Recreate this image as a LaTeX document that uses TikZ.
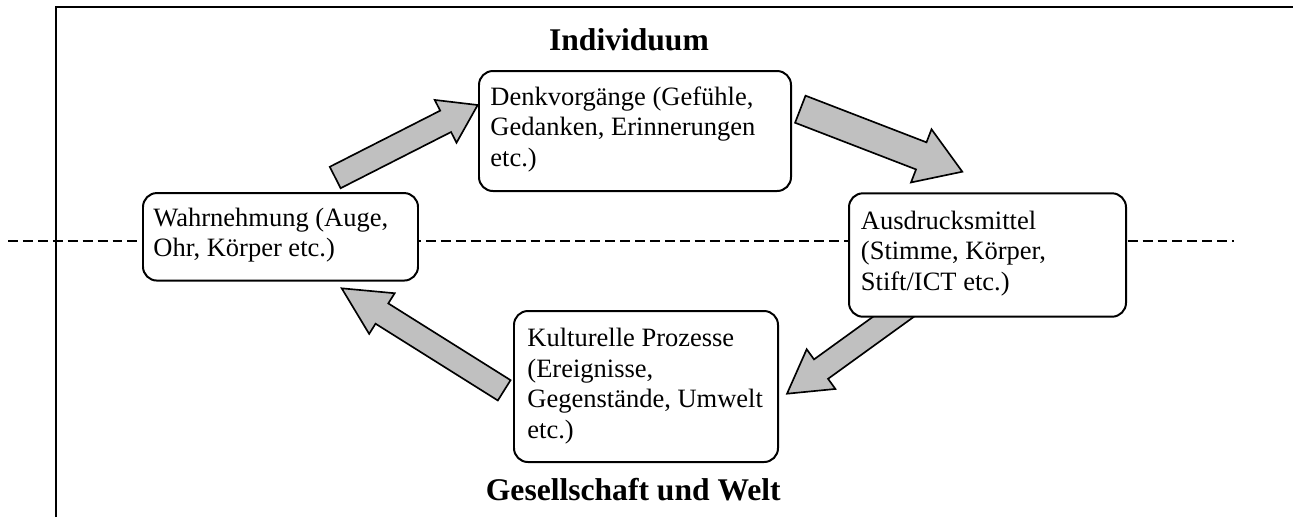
\documentclass[tikz,border=0pt]{standalone}
\usepackage{fontspec}
\setmainfont{Liberation Serif}
\usetikzlibrary{calc}
\definecolor{arrowgray}{HTML}{C0C0C0}
\def\PX{0.4528pt}
\tikzset{
 box/.style={draw, line width=0.9pt, rounded corners=6.3pt, fill=white, inner sep=0pt},
 txt/.style={align=left, inner sep=0pt, anchor=base west, font=\fontsize{12}{13.9}\selectfont},
 ttl/.style={inner sep=0pt, anchor=base, font=\fontsize{14.3}{17}\selectfont\bfseries},
 barrow/.style={draw, line width=0.75pt, fill=arrowgray, line join=miter},
 frameline/.style={line width=1.1pt},
 divider/.style={line width=0.75pt, dash pattern=on 4.5pt off 2.26pt},
}
% block arrow: #1 tail, #2 tip, #3 shaft half width, #4 head half width, #5 head length
\newcommand\blockarr[5]{%
 \draw[barrow] ($(#1)!#3!90:(#2)$)
   -- ($(#2)!#5!(#1)!#3!-90:(#1)$)
   -- ($(#2)!#5!(#1)!#4!-90:(#1)$)
   -- (#2)
   -- ($(#2)!#5!(#1)!#4!90:(#1)$)
   -- ($(#2)!#5!(#1)!#3!90:(#1)$)
   -- ($(#1)!#3!-90:(#2)$) -- cycle;}
\begin{document}
\begin{tikzpicture}[x=0.4528pt, y=-0.4528pt]
\useasboundingbox (0,0) rectangle (1293,517);
% divider and frame
\coordinate (dl) at (8,241);
\coordinate (dr) at (1234,241);
\draw[divider] (dl) -- (dr);
\coordinate (fb) at (56,517);
\coordinate (fc) at (56,7);
\coordinate (fr) at (1293,7);
\draw[frameline] (fb) -- (fc) -- (fr);
% arrow end points
\coordinate (a1t) at (335.2,177.5); \coordinate (a1p) at (477.7,105);
\coordinate (a2t) at (800.3,109.2); \coordinate (a2p) at (962.3,171.7);
\coordinate (a3t) at (918,299);     \coordinate (a3p) at (787,393.7);
\coordinate (a4t) at (504.2,390.3); \coordinate (a4p) at (341.7,288.3);
\blockarr{a1t}{a1p}{5.43pt}{10.87pt}{16.3pt}
\blockarr{a2t}{a2p}{6.57pt}{12.9pt}{19.92pt}
\blockarr{a3t}{a3p}{5.43pt}{11.09pt}{19.02pt}
\blockarr{a4t}{a4p}{5.43pt}{10.87pt}{21.5pt}
% boxes
\node[box, minimum width=312*\PX, minimum height=120*\PX] (denk) at (635,131) {};
\node[box, minimum width=275*\PX, minimum height=87.5*\PX] (wahr) at (280.5,236.8) {};
\node[box, minimum width=277*\PX, minimum height=123.4*\PX] (ausd) at (987.5,255) {};
\node[box, minimum width=264*\PX, minimum height=151*\PX] (kult) at (646,386.5) {};
% texts (anchored at the baseline of the last line)
\node[txt] (denkt) at (490,166.6) {Denkvorgänge (Gefühle,\\Gedanken, Erinnerungen\\etc.)};
\node[txt] (wahrt) at (153,256.8) {Wahrnehmung (Auge,\\Ohr, Körper etc.)};
\node[txt] (ausdt) at (860.5,290.6) {Ausdrucksmittel\\(Stimme, Körper,\\Stift/ICT etc.)};
\node[txt] (kultt) at (527,438.4) {Kulturelle Prozesse\\(Ereignisse,\\Gegenstände, Umwelt\\etc.)};
% titles
\node[ttl] (ind) at (629,50) {Individuum};
\node[ttl] (ges) at (633.3,500) {Gesellschaft und Welt};
\end{tikzpicture}
\end{document}
